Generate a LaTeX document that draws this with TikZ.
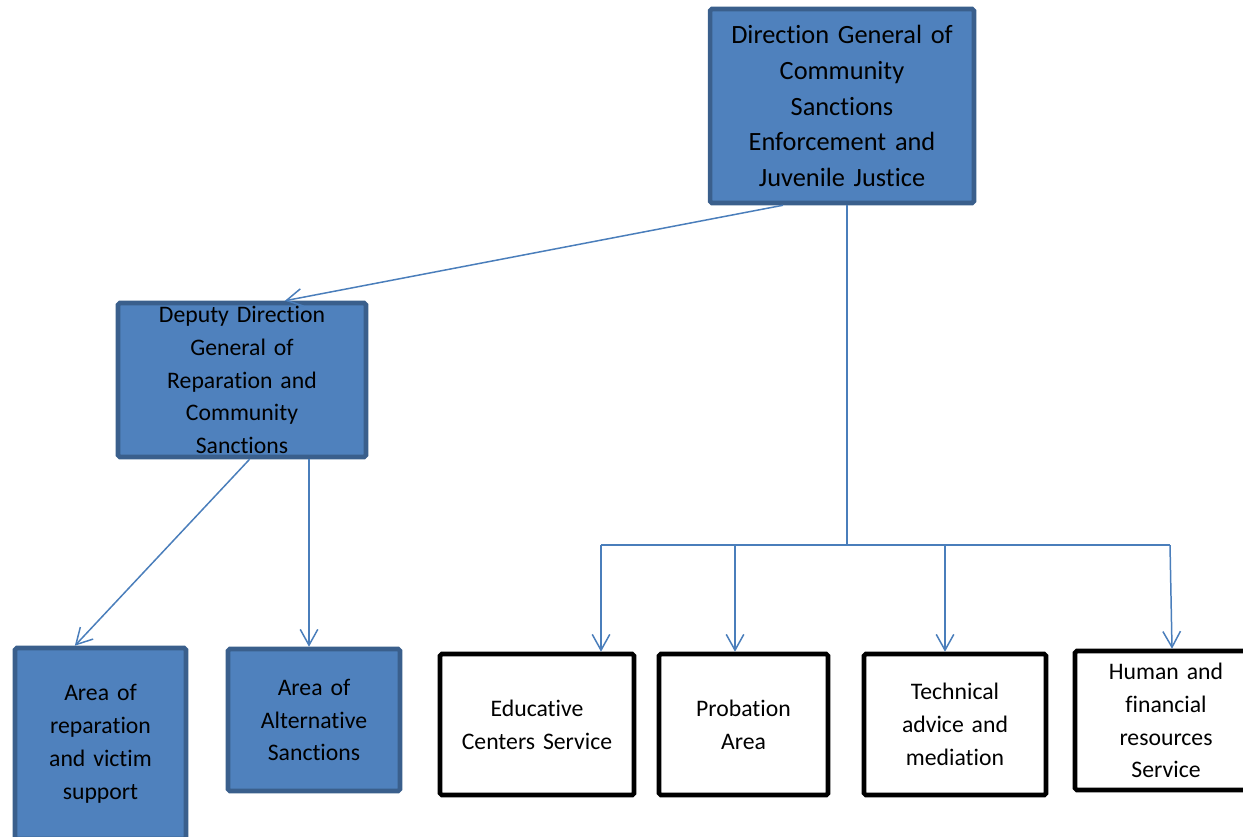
\documentclass[tikz,border=0pt]{standalone}
\usepackage{fontspec}
\setmainfont{Carlito}[Ligatures={NoCommon}]
\usetikzlibrary{arrows.meta,calc}
\definecolor{boxfill}{HTML}{4F81BD}
\definecolor{boxline}{HTML}{3A5F8C}
\definecolor{linkblue}{HTML}{4A7EBB}

\begin{document}
\begin{tikzpicture}[x=0.02cm, y=-0.02cm, >={Straight Barb[length=9pt,width=10pt]},
  every box/.style={rectangle, inner sep=0pt, align=center, rounded corners=1pt, line width=2.6pt},
  blue box/.style={every box, fill=boxfill, draw=boxline, font=\fontsize{13.5}{18.7}\selectfont},
  white box/.style={every box, fill=white, draw=black, font=\fontsize{13.5}{18.7}\selectfont},
  link/.style={draw=linkblue, line width=0.85pt}]

\useasboundingbox (0,0) rectangle (1243,836);
\clip (0,0) rectangle (1243,836);

\node [blue box, minimum width=5.28cm, minimum height=3.88cm, text width=5cm,
  font=\fontsize{15}{20.4}\selectfont] (dg) at (842,106)
  {Direction General of\\Community\\Sanctions\\Enforcement and\\Juvenile Justice};

\node [blue box, minimum width=4.96cm, minimum height=3.08cm, text width=4.6cm] (ddg) at (242,380)
  {Deputy Direction\\General of\\Reparation and\\Community\\Sanctions};

\foreach \n/\x/\y/\w/\h/\t in {arp/100.5/743.5/171/191/{Area of\\reparation\\and victim\\support},
                               aas/314/720/172/142/{Area of\\Alternative\\Sanctions}}
  \node [blue box, minimum width={\w*0.02cm}, minimum height={\h*0.02cm}, text width={\w*0.02cm-0.3cm}]
    (\n) at (\x,\y) {\t};

\foreach \n/\x/\y/\w/\h/\t in {ecs/537/724.5/194/141/{Educative\\Centers Service},
                               pa/743.5/724.5/169/141/{Probation\\Area},
                               tam/955/724.5/182/141/{Technical\\advice and\\mediation},
                               hfr/1166/720.5/182/139/{Human and\\financial\\resources\\Service}}
  \node [white box, minimum width={\w*0.02cm}, minimum height={\h*0.02cm}, text width={\w*0.02cm-0.3cm}]
    (\n) at (\x,\y) {\t};

\coordinate (bus) at (847,545);
\coordinate (busl) at (601,545);
\coordinate (busr) at (1170,545);

\draw [link, ->] ($(dg.south west)!0.28!(dg.south east)$) -- ($(ddg.north west)!0.67!(ddg.north east)$);
\draw [link] (bus |- dg.south) -- (bus);
\draw [link] (busl) -- (busr);

\foreach \n/\x in {ecs/601, pa/735, tam/945}
  \draw [link, ->] (\x,0 |- bus) -- (\x,0 |- \n.north);
\draw [link, ->] (busr) -- (1172,0 |- hfr.north);

\draw [link, ->] ($(ddg.south west)!0.53!(ddg.south east)$) -- ($(arp.north west)!0.354!(arp.north east)$);
\draw [link, ->] (309,0 |- ddg.south) -- (309,0 |- aas.north);

\end{tikzpicture}
\end{document}
